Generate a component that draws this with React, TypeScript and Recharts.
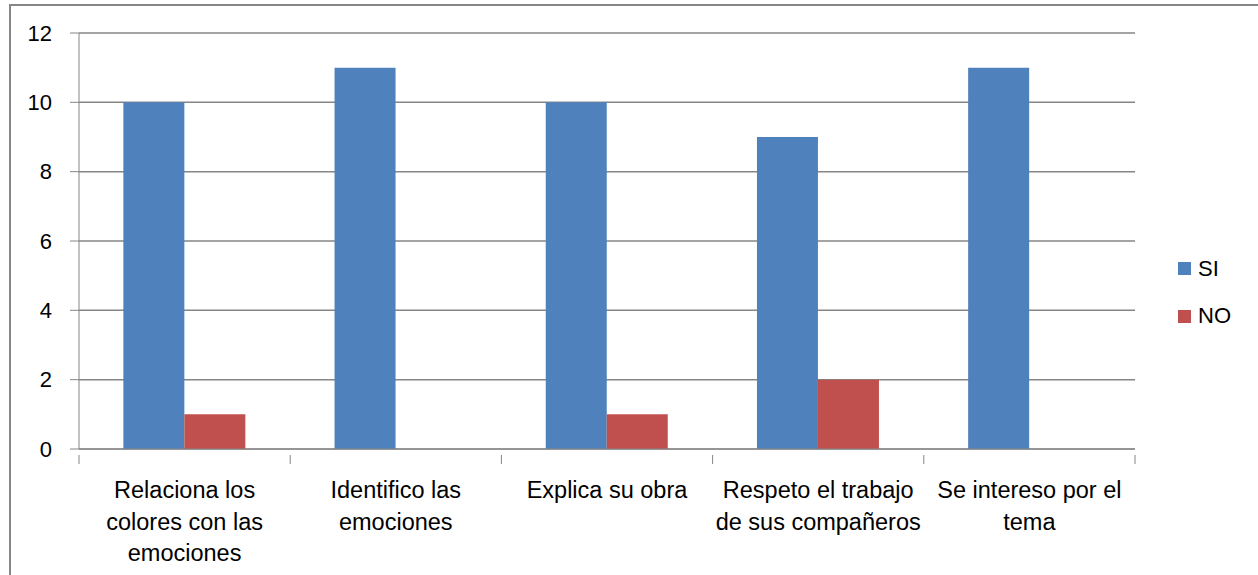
import { BarChart, Bar, XAxis, YAxis, CartesianGrid, Legend } from 'recharts';

const categories = [
  'Relaciona los colores con las emociones',
  'Identifico las emociones',
  'Explica su obra',
  'Respeto el trabajo de sus compañeros',
  'Se intereso por el tema',
];
const seriesNames = ['SI', 'NO'];
const siValues = [10, 11, 10, 9, 11];
const noValues = [1, 0, 1, 2, 0];
const yTicks = [0, 2, 4, 6, 8, 10, 12];

const data = categories.map((name, i) => ({ name, SI: siValues[i], NO: noValues[i] }));

const W = 1258;
const H = 575;
const margin = { top: 33, right: 123, left: 0, bottom: 0 };
const yAxisWidth = 79;
const xAxisHeight = 126;
const band = (W - yAxisWidth - margin.right) / categories.length;
const axisColor = '#868686';
const font = '"Liberation Sans", Arial, sans-serif';
const labelSize = 22;
const catSize = 23.5;

let ctx: CanvasRenderingContext2D | null = null;
function wrap(text: string, maxWidth: number): string[] {
  if (!ctx) ctx = document.createElement('canvas').getContext('2d');
  if (!ctx) return [text];
  ctx.font = `${catSize}px ${font}`;
  const lines: string[] = [];
  let cur = '';
  for (const w of text.split(' ')) {
    const next = cur ? cur + ' ' + w : w;
    if (cur && ctx.measureText(next).width > maxWidth) {
      lines.push(cur);
      cur = w;
    } else {
      cur = next;
    }
  }
  if (cur) lines.push(cur);
  return lines;
}

function CategoryTick(props: any) {
  const { x, y, payload, index } = props;
  const left = x - band / 2;
  const lines = wrap(payload.value, band + 4);
  return (
    <g>
      <line x1={left} y1={y} x2={left} y2={y + 9} stroke={axisColor} />
      {index === categories.length - 1 && (
        <line x1={left + band} y1={y} x2={left + band} y2={y + 9} stroke={axisColor} />
      )}
      <text x={x} y={y + 43} textAnchor="middle" fill="#000" fontSize={catSize} fontFamily={font}>
        {lines.map((l, i) => (
          <tspan key={i} x={x} dy={i === 0 ? 0 : 31.5}>{l}</tspan>
        ))}
      </text>
    </g>
  );
}

function LegendBox(props: any) {
  const items = [...props.payload].sort(
    (a: any, b: any) => seriesNames.indexOf(a.value) - seriesNames.indexOf(b.value),
  );
  return (
    <div style={{ fontFamily: font, fontSize: labelSize, color: '#000' }}>
      {items.map((p: any) => (
        <div key={p.value} style={{ height: 47.5, display: 'flex', alignItems: 'center' }}>
          <span style={{ width: 13, height: 13, background: p.color, display: 'inline-block', marginRight: 7 }} />
          <span>{p.value}</span>
        </div>
      ))}
    </div>
  );
}

export default function App() {
  return (
    <div style={{ position: 'relative', width: W, height: H, overflow: 'hidden', background: '#fff' }}>
      <style>{'body{margin:0}'}</style>
      <div
        style={{
          position: 'absolute', left: 9, top: 4, width: W, height: H,
          borderLeft: `2px solid ${axisColor}`, borderTop: `2px solid ${axisColor}`,
        }}
      />
      <div style={{ position: 'absolute', left: 0, top: 0 }}>
        <BarChart
          width={W}
          height={H}
          data={data}
          margin={margin}
          barCategoryGap="21%"
          barGap={0}
          style={{ fontFamily: font }}
        >
          <CartesianGrid vertical={false} stroke={axisColor} strokeWidth={1.5} />
          <XAxis
            dataKey="name"
            interval={0}
            tickLine={false}
            tickMargin={0}
            stroke={axisColor}
            tick={<CategoryTick />}
            height={xAxisHeight}
          />
          <YAxis
            width={yAxisWidth}
            domain={[0, 12]}
            ticks={yTicks}
            tickSize={9}
            tickMargin={18}
            stroke={axisColor}
            tick={{ fill: '#000', fontSize: labelSize, fontFamily: font }}
          />
          <Legend
            layout="vertical"
            align="center"
            verticalAlign="middle"
            wrapperStyle={{ left: 1178, top: 245, width: 80 }}
            content={<LegendBox />}
          />
          <Bar dataKey="SI" name="SI" fill="#4F81BD" isAnimationActive={false} />
          <Bar dataKey="NO" name="NO" fill="#C0504D" isAnimationActive={false} />
        </BarChart>
      </div>
    </div>
  );
}
